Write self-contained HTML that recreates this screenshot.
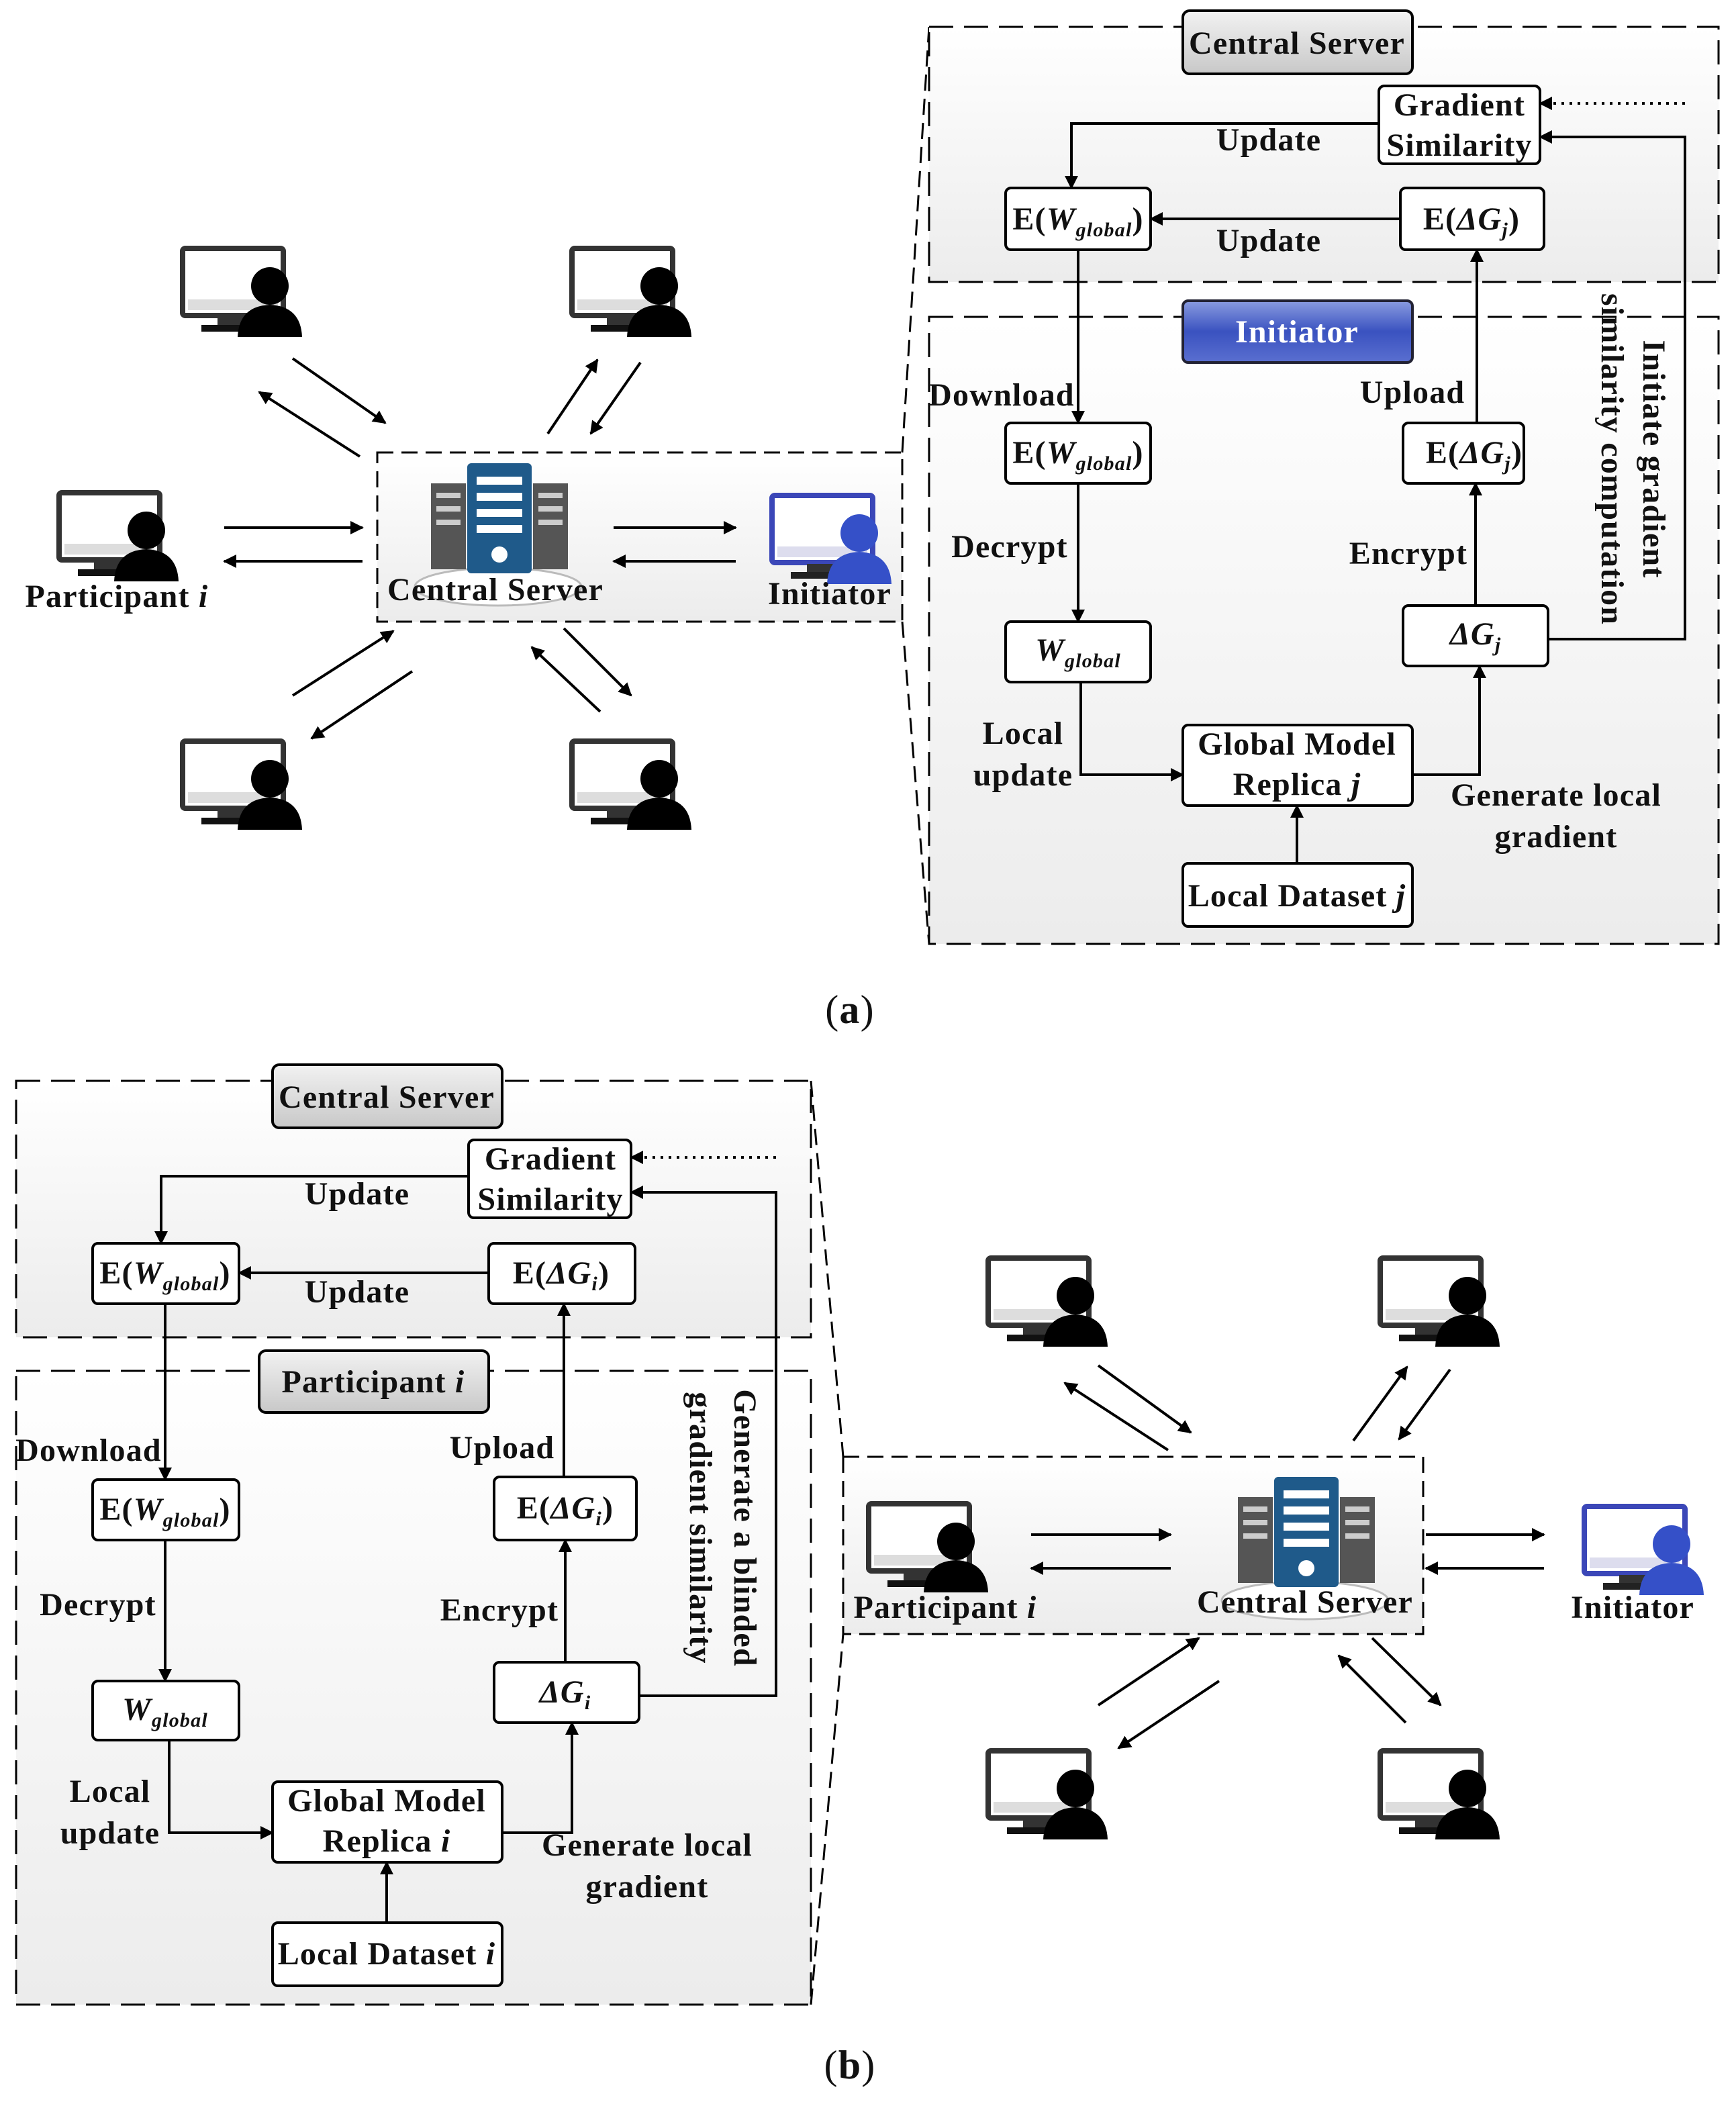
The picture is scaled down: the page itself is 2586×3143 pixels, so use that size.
<!DOCTYPE html>
<html><head><meta charset="utf-8"><style>
html,body{margin:0;padding:0;background:#fff}
svg{display:block}
text{font-family:"Liberation Serif",serif;font-weight:bold;fill:#111;letter-spacing:0.6px}
</style></head><body>
<svg width="2586" height="3143" viewBox="0 0 1293 1571.5" xmlns="http://www.w3.org/2000/svg">
<defs>
<marker id="ah" viewBox="0 0 10 10" refX="9" refY="5" markerWidth="5" markerHeight="5" orient="auto"><path d="M0,0L10,5L0,10z" fill="#000"/></marker>
<linearGradient id="gbox" x1="0" y1="0" x2="0" y2="1"><stop offset="0" stop-color="#fff"/><stop offset="1" stop-color="#ececec"/></linearGradient>
<linearGradient id="glab" x1="0" y1="0" x2="0" y2="1"><stop offset="0" stop-color="#f2f2f2"/><stop offset="1" stop-color="#c8c8c8"/></linearGradient>
<linearGradient id="gblue" x1="0" y1="0" x2="0" y2="1"><stop offset="0" stop-color="#8a9ce0"/><stop offset="0.5" stop-color="#3a52c0"/><stop offset="1" stop-color="#5a6fd0"/></linearGradient>
<g id="mon">
<rect x="2" y="2" width="75" height="50" fill="#fff" stroke="#333" stroke-width="4" rx="2"/>
<rect x="6" y="40" width="67" height="8" fill="#ddd"/>
<rect x="28" y="53" width="22" height="6" fill="#333"/>
<rect x="16" y="59" width="48" height="5" fill="#111"/>
<circle cx="67" cy="30" r="14" fill="#000"/>
<path d="M43,68 Q44,45 67,44 Q90,45 91,68 Z" fill="#000"/>
</g>
<g id="monb">
<rect x="2" y="2" width="75" height="50" fill="#fff" stroke="#3b47b8" stroke-width="4" rx="2"/>
<rect x="6" y="40" width="67" height="8" fill="#dde"/>
<rect x="28" y="53" width="22" height="6" fill="#333"/>
<rect x="16" y="59" width="48" height="5" fill="#222"/>
<circle cx="67" cy="30" r="14" fill="#3550c8"/>
<path d="M43,68 Q44,45 67,44 Q90,45 91,68 Z" fill="#3550c8"/>
</g>
<g id="srv">
<ellipse cx="50" cy="92" rx="62" ry="14" fill="#fff" stroke="#bbb" stroke-width="1.5"/>
<rect x="0" y="15" width="26" height="64" fill="#555"/>
<rect x="76" y="15" width="26" height="64" fill="#555"/>
<rect x="4" y="22" width="18" height="4" fill="#ccc"/><rect x="4" y="32" width="18" height="4" fill="#ccc"/><rect x="4" y="42" width="18" height="4" fill="#ccc"/>
<rect x="80" y="22" width="18" height="4" fill="#ccc"/><rect x="80" y="32" width="18" height="4" fill="#ccc"/><rect x="80" y="42" width="18" height="4" fill="#ccc"/>
<rect x="27" y="0" width="48" height="82" fill="#1f5a8a" rx="3"/>
<rect x="34" y="10" width="34" height="6" fill="#fff"/><rect x="34" y="22" width="34" height="6" fill="#fff"/><rect x="34" y="34" width="34" height="6" fill="#fff"/><rect x="34" y="46" width="34" height="6" fill="#fff"/>
<circle cx="51" cy="68" r="6" fill="#fff"/>
</g>
</defs>
<g stroke="#000" stroke-width="2" fill="none">
<rect x="281" y="337" width="391" height="126" fill="url(#gbox)" stroke-dasharray="12,6" stroke-width="1.5"/>
<line x1="672" y1="337" x2="692" y2="20" stroke-dasharray="12,6" stroke-width="1.5"/>
<line x1="672" y1="463" x2="692" y2="703" stroke-dasharray="12,6" stroke-width="1.5"/>
<line x1="167" y1="393" x2="270" y2="393" marker-end="url(#ah)"/>
<line x1="270" y1="418" x2="167" y2="418" marker-end="url(#ah)"/>
<line x1="457" y1="393" x2="548" y2="393" marker-end="url(#ah)"/>
<line x1="548" y1="418" x2="457" y2="418" marker-end="url(#ah)"/>
<line x1="218" y1="267" x2="287" y2="315" marker-end="url(#ah)"/>
<line x1="268" y1="340" x2="193" y2="292" marker-end="url(#ah)"/>
<line x1="408" y1="323" x2="445" y2="268" marker-end="url(#ah)"/>
<line x1="477" y1="270" x2="440" y2="323" marker-end="url(#ah)"/>
<line x1="218" y1="518" x2="293" y2="470" marker-end="url(#ah)"/>
<line x1="307" y1="500" x2="232" y2="550" marker-end="url(#ah)"/>
<line x1="447" y1="530" x2="396" y2="482" marker-end="url(#ah)"/>
<line x1="420" y1="468" x2="470" y2="518" marker-end="url(#ah)"/>
<rect x="692" y="20" width="588" height="190" fill="url(#gbox)" stroke-dasharray="18,8" stroke-width="1.5"/>
<rect x="692" y="236" width="588" height="467" fill="url(#gbox)" stroke-dasharray="18,8" stroke-width="1.5"/>
<rect x="881" y="8" width="171" height="47" rx="5" fill="url(#glab)"/>
<rect x="881" y="224" width="171" height="46" rx="4" fill="url(#gblue)" stroke="#223"/>
<rect x="1027" y="64" width="120" height="58" rx="4" fill="#fff"/>
<rect x="749" y="140" width="108" height="46" rx="4" fill="#fff"/>
<rect x="1043" y="140" width="107" height="46" rx="4" fill="#fff"/>
<rect x="749" y="315" width="108" height="45" rx="4" fill="#fff"/>
<rect x="1045" y="315" width="90" height="45" rx="4" fill="#fff"/>
<rect x="749" y="463" width="108" height="45" rx="4" fill="#fff"/>
<rect x="1045" y="451" width="108" height="45" rx="4" fill="#fff"/>
<rect x="881" y="540" width="171" height="60" rx="4" fill="#fff"/>
<rect x="881" y="643" width="171" height="47" rx="4" fill="#fff"/>
<polyline points="1027,92 798,92 798,140" marker-end="url(#ah)"/>
<line x1="1043" y1="163" x2="857" y2="163" marker-end="url(#ah)"/>
<line x1="803" y1="186" x2="803" y2="315" marker-end="url(#ah)"/>
<line x1="803" y1="360" x2="803" y2="463" marker-end="url(#ah)"/>
<polyline points="805,508 805,577 881,577" marker-end="url(#ah)"/>
<polyline points="1052,577 1102,577 1102,496" marker-end="url(#ah)"/>
<line x1="1099" y1="451" x2="1099" y2="360" marker-end="url(#ah)"/>
<line x1="1100" y1="315" x2="1100" y2="186" marker-end="url(#ah)"/>
<polyline points="1153,476 1255,476 1255,102 1147,102" marker-end="url(#ah)"/>
<line x1="1255" y1="77" x2="1147" y2="77" stroke-dasharray="2,4" marker-end="url(#ah)"/>
<line x1="966" y1="643" x2="966" y2="600" marker-end="url(#ah)"/>
<rect x="12" y="805" width="592" height="191" fill="url(#gbox)" stroke-dasharray="18,8" stroke-width="1.5"/>
<rect x="12" y="1021" width="592" height="472" fill="url(#gbox)" stroke-dasharray="18,8" stroke-width="1.5"/>
<rect x="203" y="793" width="171" height="47" rx="5" fill="url(#glab)"/>
<rect x="193" y="1006" width="171" height="46" rx="5" fill="url(#glab)"/>
<rect x="349" y="849" width="121" height="58" rx="4" fill="#fff"/>
<rect x="69" y="926" width="109" height="45" rx="4" fill="#fff"/>
<rect x="364" y="926" width="109" height="45" rx="4" fill="#fff"/>
<rect x="69" y="1102" width="109" height="45" rx="4" fill="#fff"/>
<rect x="368" y="1100" width="106" height="47" rx="4" fill="#fff"/>
<rect x="69" y="1252" width="109" height="44" rx="4" fill="#fff"/>
<rect x="368" y="1238" width="108" height="45" rx="4" fill="#fff"/>
<rect x="203" y="1327" width="171" height="60" rx="4" fill="#fff"/>
<rect x="203" y="1432" width="171" height="47" rx="4" fill="#fff"/>
<polyline points="349,876 120,876 120,926" marker-end="url(#ah)"/>
<line x1="364" y1="948" x2="178" y2="948" marker-end="url(#ah)"/>
<line x1="123" y1="971" x2="123" y2="1102" marker-end="url(#ah)"/>
<line x1="123" y1="1147" x2="123" y2="1252" marker-end="url(#ah)"/>
<polyline points="126,1296 126,1365 203,1365" marker-end="url(#ah)"/>
<polyline points="374,1365 426,1365 426,1283" marker-end="url(#ah)"/>
<line x1="421" y1="1238" x2="421" y2="1147" marker-end="url(#ah)"/>
<line x1="420" y1="1100" x2="420" y2="971" marker-end="url(#ah)"/>
<polyline points="476,1263 578,1263 578,888 470,888" marker-end="url(#ah)"/>
<line x1="578" y1="862" x2="470" y2="862" stroke-dasharray="2,4" marker-end="url(#ah)"/>
<line x1="288" y1="1432" x2="288" y2="1387" marker-end="url(#ah)"/>
<rect x="628" y="1085" width="432" height="132" fill="url(#gbox)" stroke-dasharray="12,6" stroke-width="1.5"/>
<line x1="604" y1="805" x2="628" y2="1085" stroke-dasharray="12,6" stroke-width="1.5"/>
<line x1="604" y1="1493" x2="628" y2="1217" stroke-dasharray="12,6" stroke-width="1.5"/>
<line x1="768" y1="1143" x2="872" y2="1143" marker-end="url(#ah)"/>
<line x1="872" y1="1168" x2="768" y2="1168" marker-end="url(#ah)"/>
<line x1="1062" y1="1143" x2="1150" y2="1143" marker-end="url(#ah)"/>
<line x1="1150" y1="1168" x2="1062" y2="1168" marker-end="url(#ah)"/>
<line x1="818" y1="1017" x2="887" y2="1067" marker-end="url(#ah)"/>
<line x1="870" y1="1080" x2="793" y2="1030" marker-end="url(#ah)"/>
<line x1="1008" y1="1073" x2="1048" y2="1018" marker-end="url(#ah)"/>
<line x1="1080" y1="1020" x2="1042" y2="1072" marker-end="url(#ah)"/>
<line x1="818" y1="1270" x2="893" y2="1220" marker-end="url(#ah)"/>
<line x1="908" y1="1252" x2="833" y2="1302" marker-end="url(#ah)"/>
<line x1="1047" y1="1283" x2="997" y2="1233" marker-end="url(#ah)"/>
<line x1="1022" y1="1220" x2="1073" y2="1270" marker-end="url(#ah)"/>
</g>
<use href="#mon" x="134" y="183"/><use href="#mon" x="424" y="183"/>
<use href="#mon" x="134" y="550"/><use href="#mon" x="424" y="550"/>
<use href="#mon" x="42" y="365"/><use href="#monb" x="573" y="367"/>
<use href="#srv" x="321" y="345"/>
<use href="#mon" x="734" y="935"/><use href="#mon" x="1026" y="935"/>
<use href="#mon" x="734" y="1302"/><use href="#mon" x="1026" y="1302"/>
<use href="#mon" x="645" y="1118"/><use href="#monb" x="1178" y="1120"/>
<use href="#srv" x="922" y="1100"/>
<g font-size="24" text-anchor="middle">
<text x="87" y="452">Participant <tspan font-style="italic">i</tspan></text>
<text x="369" y="447">Central Server</text>
<text x="618" y="450">Initiator</text>
<text x="966" y="40">Central Server</text>
<text x="966" y="255" style="fill:#fff">Initiator</text>
<text x="1087" y="86">Gradient</text><text x="1087" y="116">Similarity</text>
<text x="803" y="171">E(<tspan font-style="italic">W</tspan><tspan font-size="15" font-style="italic" dy="5">global</tspan><tspan dy="-5">)</tspan></text>
<text x="1096" y="171">E(<tspan font-style="italic">ΔG<tspan font-size="15" dy="5">j</tspan></tspan><tspan dy="-5">)</tspan></text>
<text x="803" y="345">E(<tspan font-style="italic">W</tspan><tspan font-size="15" font-style="italic" dy="5">global</tspan><tspan dy="-5">)</tspan></text>
<text x="1098" y="345">E(<tspan font-style="italic">ΔG<tspan font-size="15" dy="5">j</tspan></tspan><tspan dy="-5">)</tspan></text>
<text x="803" y="492" font-style="italic">W<tspan font-size="15" dy="5">global</tspan></text>
<text x="1099" y="480" font-style="italic">ΔG<tspan font-size="15" dy="5">j</tspan></text>
<text x="966" y="562">Global Model</text><text x="966" y="592">Replica <tspan font-style="italic">j</tspan></text>
<text x="966" y="675">Local Dataset <tspan font-style="italic">j</tspan></text>
<text x="945" y="112">Update</text><text x="945" y="187">Update</text>
<text x="746" y="302">Download</text><text x="1052" y="300">Upload</text>
<text x="752" y="415">Decrypt</text><text x="1049" y="420">Encrypt</text>
<text x="762" y="554">Local</text><text x="762" y="585">update</text>
<text x="1159" y="600">Generate local</text><text x="1159" y="631">gradient</text>
<text transform="translate(1224,342) rotate(90)">Initiate gradient</text>
<text transform="translate(1193,342) rotate(90)">similarity computation</text>
<text x="633" y="762" font-size="30" style="font-weight:normal">(<tspan font-weight="bold">a</tspan>)</text>
<text x="288" y="825">Central Server</text>
<text x="278" y="1037">Participant <tspan font-style="italic">i</tspan></text>
<text x="410" y="871">Gradient</text><text x="410" y="901">Similarity</text>
<text x="123" y="956">E(<tspan font-style="italic">W</tspan><tspan font-size="15" font-style="italic" dy="5">global</tspan><tspan dy="-5">)</tspan></text>
<text x="418" y="956">E(<tspan font-style="italic">ΔG<tspan font-size="15" dy="5">i</tspan></tspan><tspan dy="-5">)</tspan></text>
<text x="123" y="1132">E(<tspan font-style="italic">W</tspan><tspan font-size="15" font-style="italic" dy="5">global</tspan><tspan dy="-5">)</tspan></text>
<text x="421" y="1131">E(<tspan font-style="italic">ΔG<tspan font-size="15" dy="5">i</tspan></tspan><tspan dy="-5">)</tspan></text>
<text x="123" y="1281" font-style="italic">W<tspan font-size="15" dy="5">global</tspan></text>
<text x="421" y="1268" font-style="italic">ΔG<tspan font-size="15" dy="5">i</tspan></text>
<text x="288" y="1349">Global Model</text><text x="288" y="1379">Replica <tspan font-style="italic">i</tspan></text>
<text x="288" y="1463">Local Dataset <tspan font-style="italic">i</tspan></text>
<text x="266" y="897">Update</text><text x="266" y="970">Update</text>
<text x="66" y="1088">Download</text><text x="374" y="1086">Upload</text>
<text x="73" y="1203">Decrypt</text><text x="372" y="1207">Encrypt</text>
<text x="82" y="1342">Local</text><text x="82" y="1373">update</text>
<text x="482" y="1382">Generate local</text><text x="482" y="1413">gradient</text>
<text transform="translate(547,1138) rotate(90)">Generate a blinded</text>
<text transform="translate(514,1138) rotate(90)">gradient similarity</text>
<text x="704" y="1205">Participant <tspan font-style="italic">i</tspan></text>
<text x="972" y="1201">Central Server</text>
<text x="1216" y="1205">Initiator</text>
<text x="633" y="1548" font-size="30" style="font-weight:normal">(<tspan font-weight="bold">b</tspan>)</text>
</g>
</svg>
</body></html>
